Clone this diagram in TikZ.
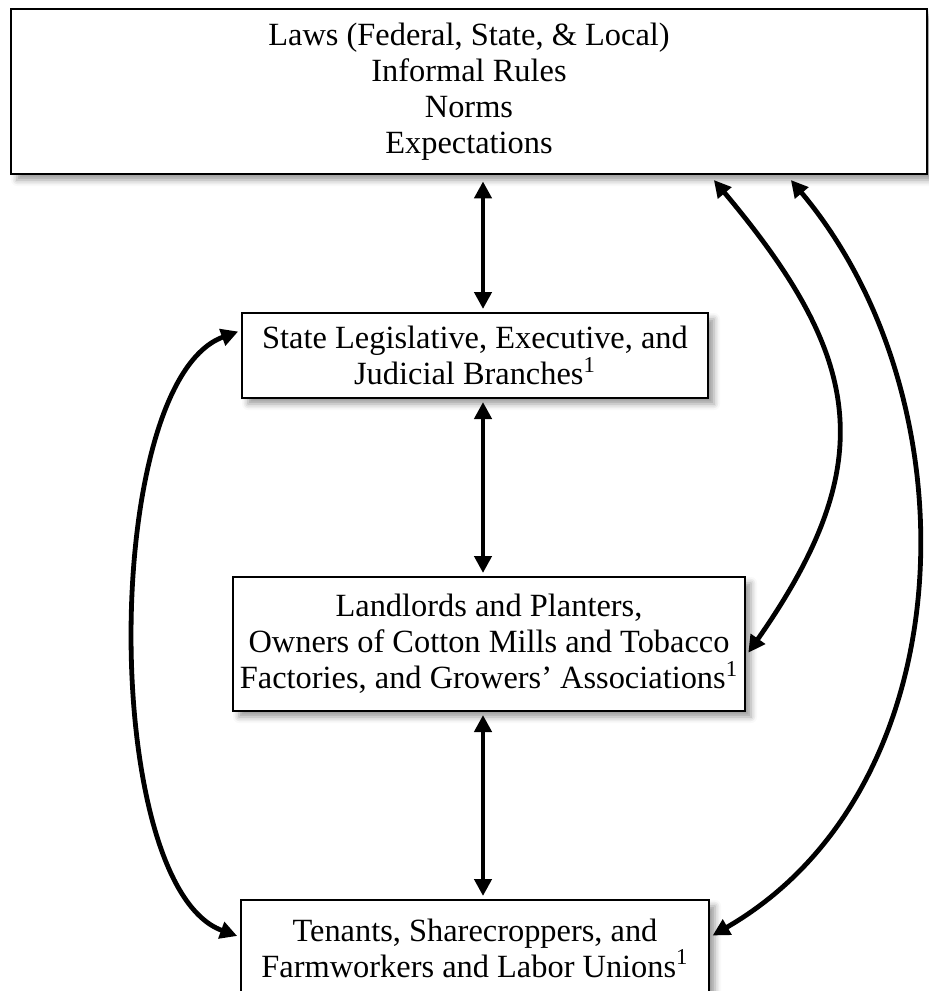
\documentclass[tikz,border=0pt]{standalone}
\usepackage{fontspec}
\setmainfont{Liberation Serif}
\usetikzlibrary{arrows.meta,shadows.blur}
\tikzset{
  lbox/.style ={draw, fill=white, line width=1pt, align=center, inner sep=0pt,
                font=\fontsize{16.2pt}{18pt}\selectfont,
                blur shadow={shadow xshift=3pt, shadow yshift=-3pt, shadow blur radius=3pt}},
  bar/.style  ={{Triangle[length=8.5pt,width=8.5pt]}-{Triangle[length=8.5pt,width=8.5pt]}, line width=2.4pt},
}

\begin{document}
\begin{tikzpicture}[x=0.5pt,y=0.5pt]
\useasboundingbox (0,0) rectangle (929,-991);
\node[lbox,line width=1.4pt,minimum width=458pt,minimum height=82.5pt] (laws) at (469,-91.5)
  {Laws (Federal, State, \& Local)\\ Informal Rules\\ Norms\\ Expectations};
\node[lbox,minimum width=233pt,minimum height=42.5pt] (state) at (475,-355.5)
  {State Legislative, Executive, and\\ Judicial Branches\textsuperscript{1}};
\node[lbox,minimum width=256pt,minimum height=67pt] (owners) at (489,-644)
  {Landlords and Planters,\\ Owners of Cotton Mills and Tobacco\\ Factories, and Growers’ Associations\textsuperscript{1}};
\node[lbox,minimum width=234pt,minimum height=48pt] (tenants) at (475,-948)
  {Tenants, Sharecroppers, and\\ Farmworkers and Labor Unions\textsuperscript{1}};
\coordinate (ax) at (483,0);
% vertical links
\draw[bar,shorten <=3pt,shorten >=1.5pt] (laws.south -| ax) -- (state.north -| ax);
\draw[bar,shorten <=1.5pt,shorten >=1.5pt] (state.south -| ax) -- (owners.north -| ax);
\draw[bar,shorten <=1.5pt,shorten >=1.5pt] (owners.south -| ax) -- (tenants.north -| ax);
% curved links
\draw[bar,shorten <=1.5pt,shorten >=1.5pt] ([yshift=12.5pt]state.west) to[out=200,in=160,looseness=0.63] ([yshift=5.5pt]tenants.west);
\draw[bar,shorten <=3pt,shorten >=2pt] ([xshift=120.5pt]laws.south) to[out=-50,in=55,looseness=1.26] ([yshift=-6pt]owners.east);
\draw[bar,shorten <=3pt,shorten >=1.5pt] ([xshift=159pt]laws.south) to[out=-50,in=30,looseness=0.985] ([yshift=5.5pt]tenants.east);
\end{tikzpicture}
\end{document}
